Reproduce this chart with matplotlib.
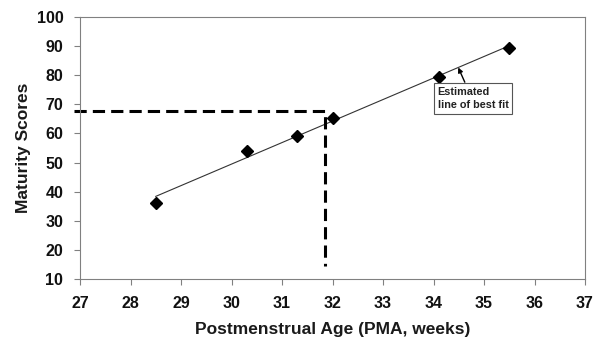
import numpy as np
import matplotlib
matplotlib.use("Agg")
import matplotlib.pyplot as plt

# PMA (weeks) and maturity scores
pma = [28.5, 30.3, 31.3, 32.0, 34.1, 35.5]
scores = [36.2, 54.0, 59.1, 65.3, 79.4, 89.3]

# dashed guide: score 67.6 -> PMA 31.85
guide_pma = 31.85
guide_score = 67.6
guide_bottom = 14.3

x_ticks = list(range(27, 38))
y_ticks = list(range(10, 101, 10))


def main():
    plt.rcParams["font.family"] = ["Liberation Sans", "DejaVu Sans"]
    plt.rcParams["font.weight"] = "bold"

    fig = plt.figure(figsize=(6.02, 3.41), dpi=100)
    axe = fig.add_axes([80 / 602, 1 - 279 / 341, 505 / 602, 262 / 341])

    # estimated line of best fit
    slope, icpt = np.polyfit(pma, scores, 1)
    fit_x = np.array([pma[0], pma[-1]])
    axe.plot(fit_x, slope * fit_x + icpt, color="#333333", lw=0.8, zorder=2)

    axe.plot(pma, scores, linestyle="none", marker="D", ms=6.5,
             color="black", zorder=3)

    # dashed reading lines
    axe.plot([26.88, guide_pma, guide_pma],
             [guide_score, guide_score, guide_bottom],
             color="black", lw=2.2, dashes=(4, 2), zorder=2, clip_on=False)

    # annotation
    tip_x = 34.49
    axe.annotate("", xy=(tip_x, slope * tip_x + icpt), xytext=(34.62, 77.6),
                 arrowprops=dict(arrowstyle="-|>", color="black", lw=1.0,
                                 mutation_scale=7, shrinkA=0, shrinkB=0))
    axe.text(34.08, 72.0, "Estimated\nline of best fit", fontsize=7.8,
             fontweight="bold", color="#222222", va="center", ha="left",
             linespacing=1.45,
             bbox=dict(boxstyle="square,pad=0.3", fc="white",
                       ec="#555555", lw=0.8))

    axe.set_xlim(27, 37)
    axe.set_ylim(10, 100)
    axe.set_xticks(x_ticks, labels=[str(v) for v in x_ticks],
                   fontsize=11.5, fontweight="bold", color="#111111")
    axe.set_yticks(y_ticks, labels=[str(v) for v in y_ticks],
                   fontsize=11.5, fontweight="bold", color="#111111")
    axe.tick_params(axis="both", direction="out", length=4, width=0.8,
                    color="#808080", pad=8)
    for sp in axe.spines.values():
        sp.set_color("#808080")
        sp.set_linewidth(0.8)

    axe.set_xlabel("Postmenstrual Age (PMA, weeks)", fontsize=12.5,
                   fontweight="bold", color="#1a1a1a", labelpad=8)
    axe.set_ylabel("Maturity Scores", fontsize=12.5, fontweight="bold",
                   color="#1a1a1a", labelpad=4)

    fig.savefig("out.png", dpi=100)


if __name__ == "__main__":
    main()
